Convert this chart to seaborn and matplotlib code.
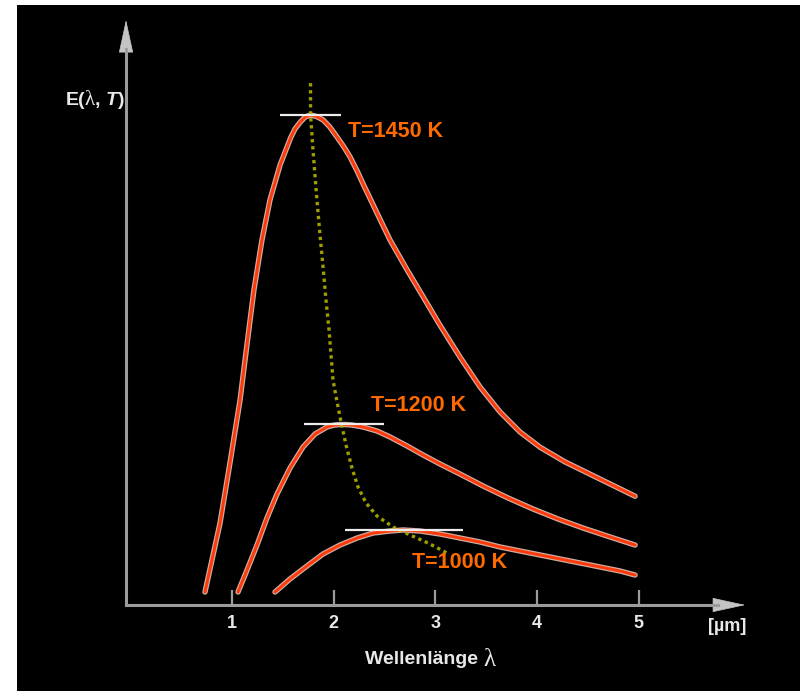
import numpy as np
import pandas as pd
import matplotlib
matplotlib.use('Agg')
import matplotlib.pyplot as plt
import matplotlib.patheffects as pe
import seaborn as sns

# wavelength [um] and E(lambda, T) readings (arbitrary units, peak of 1450 K = 100)
wl_1450 = [0.733, 0.802, 0.881, 0.979, 1.078, 1.146, 1.215, 1.294, 1.373, 1.472, 1.575, 1.62,
           1.673, 1.72, 1.772, 1.83, 1.895, 1.96, 2.033, 2.10, 2.162, 2.23, 2.290, 2.426,
           2.554, 2.722, 2.880, 3.046, 3.243, 3.440, 3.637, 3.834, 4.031, 4.277, 4.523,
           4.740, 4.966]
e_1450 = [2.65, 9.2, 16.7, 29.0, 41.8, 53.1, 64.3, 74.5, 82.7, 89.8, 95.3, 97.2,
          98.6, 99.6, 100, 99.7, 99.0, 97.6, 95.5, 93.5, 91.4, 88.6, 85.9, 80.0,
          74.5, 68.4, 62.9, 57.1, 50.6, 44.5, 39.4, 35.3, 32.2, 29.2, 26.7,
          24.5, 22.2]

wl_1200 = [1.058, 1.147, 1.245, 1.343, 1.442, 1.570, 1.698, 1.816, 1.934, 2.000, 2.062, 2.120,
           2.180, 2.289, 2.426, 2.554, 2.722, 2.880, 3.046, 3.243, 3.470, 3.716, 3.962, 4.208,
           4.454, 4.720, 4.966]
e_1200 = [2.65, 7.14, 12.24, 17.76, 22.65, 27.96, 32.24, 34.9, 36.33, 36.7, 36.84, 36.82,
          36.73, 36.33, 35.51, 34.29, 32.45, 30.61, 28.78, 26.73, 24.29, 21.84, 19.59, 17.55,
          15.71, 13.88, 12.24]

wl_1000 = [1.422, 1.570, 1.737, 1.895, 2.062, 2.230, 2.387, 2.554, 2.682, 2.850, 3.046, 3.243,
           3.440, 3.637, 3.883, 4.129, 4.375, 4.621, 4.818, 4.966]
e_1000 = [2.65, 5.31, 7.96, 10.41, 12.24, 13.67, 14.69, 15.10, 15.31, 15.10, 14.49, 13.67,
          12.86, 11.84, 10.82, 9.80, 8.78, 7.76, 6.94, 6.12]

# Wien displacement line (through the maxima)
wl_wien = [1.772, 1.772, 1.796, 1.835, 1.865, 1.895, 1.924, 1.954, 1.993, 2.033, 2.072, 2.121,
           2.180, 2.239, 2.318, 2.426, 2.584, 2.751, 2.928, 3.115]
e_wien = [106.5, 100, 92.86, 82.65, 75.5, 69.0, 62.24, 56.12, 45.92, 41.43, 37.35, 32.65,
          27.96, 24.08, 20.82, 18.16, 15.92, 14.29, 12.65, 10.61]

temps = ['T=1450 K', 'T=1200 K', 'T=1000 K']
peak_wl = [1.776, 2.10, 2.69]
peak_e = [100, 36.9, 15.4]
peak_halfwidth = [0.30, 0.39, 0.58]
label_pos = [(2.14, 96.7), (2.37, 40.8), (2.77, 8.6)]

xticks = [1, 2, 3, 4, 5]

df = pd.concat([
    pd.DataFrame({'wl': wl_1450, 'E': e_1450, 'T': temps[0]}),
    pd.DataFrame({'wl': wl_1200, 'E': e_1200, 'T': temps[1]}),
    pd.DataFrame({'wl': wl_1000, 'E': e_1000, 'T': temps[2]}),
])
wien = pd.DataFrame({'wl': wl_wien, 'E': e_wien})

sns.set_theme(style='white')
plt.rcParams['font.family'] = ['Liberation Sans', 'DejaVu Sans']

fig = plt.figure(figsize=(8, 6.91), dpi=100)
fig.patch.set_facecolor('white')
ax = fig.add_axes([17 / 800, 0, 783 / 800, 686 / 691])
ax.set_facecolor('black')

axis_grey = '#9c9c9c'
origin_x = -0.044

# curves with a pale outline
sns.lineplot(data=df, x='wl', y='E', hue='T', palette=['#ff3a0a'] * 3, sort=False,
             estimator=None, legend=False, lw=2.2, ax=ax, zorder=3,
             path_effects=[pe.Stroke(linewidth=3.9, foreground='#cdb0a8'), pe.Normal()])

# Wien line
sns.lineplot(data=wien, x='wl', y='E', sort=False, estimator=None, color='#b0b000',
             lw=2.4, linestyle=(0, (1, 1.1)), ax=ax, zorder=4, alpha=0.9)

# peak markers
ax.hlines(peak_e, np.array(peak_wl) - np.array(peak_halfwidth),
          np.array(peak_wl) + np.array(peak_halfwidth), color='#ececec', lw=1.6, zorder=5)

for name, (lx, ly) in zip(temps, label_pos):
    ax.text(lx, ly, name, color='#ff6a00', fontsize=15.5, fontweight='bold',
            ha='left', va='center', zorder=6)

ax.set_xlim(-1.117, 6.589)
ax.set_ylim(-17.55, 122.45)

# axes as arrows
for s in ['top', 'right']:
    ax.spines[s].set_visible(False)
ax.spines['bottom'].set_position(('data', 0))
ax.spines['left'].set_position(('data', origin_x))
ax.spines['bottom'].set_bounds(origin_x, 5.78)
ax.spines['left'].set_bounds(0, 113.5)
for s in ['bottom', 'left']:
    ax.spines[s].set_color(axis_grey)
    ax.spines[s].set_linewidth(2.2)

ax.set_xticks(xticks)
ax.set_xticklabels([str(t) for t in xticks])
ax.set_yticks([])
ax.tick_params(axis='x', direction='in', length=11, width=1.6, color=axis_grey,
               labelcolor='#e8e8e8', labelsize=13, pad=7, bottom=True)
for lab in ax.get_xticklabels():
    lab.set_fontweight('bold')
ax.set_xlabel('')
ax.set_ylabel('')

arrow = dict(arrowstyle='-|>,head_length=1.1,head_width=0.24', color='#c4c4c4',
             lw=0.5, shrinkA=0, shrinkB=0, mutation_scale=20)
ax.annotate('', xy=(6.05, 0), xytext=(5.7, 0), arrowprops=arrow, zorder=2)
ax.annotate('', xy=(origin_x, 119.4), xytext=(origin_x, 112), arrowprops=arrow, zorder=2)

ax.text(5.87, -4.3, '[µm]', color='#e8e8e8', fontsize=13, fontweight='bold',
        ha='center', va='center')

# x label: "Wellenlänge λ"
t1 = ax.text(2.31, -11.2, 'Wellenlänge ', color='#e8e8e8', fontsize=14,
             fontweight='bold', ha='left', va='center')
ax.annotate('λ', xy=(1, 0.5), xycoords=t1, color='#e8e8e8', fontsize=18,
            family='Liberation Serif', ha='left', va='center')

# y label: "E(λ, T)"
def chain(prev, s, **kw):
    return ax.annotate(s, xy=(1, 0.5), xycoords=prev, ha='left', va='center',
                       color='#e8e8e8', **kw)

e1 = ax.text(-0.64, 103, 'E(', color='#e8e8e8', fontsize=14, fontweight='bold',
             ha='left', va='center')
e2 = chain(e1, 'λ', fontsize=15, family='Liberation Serif')
e3 = chain(e2, ', ', fontsize=14, fontweight='bold')
e4 = chain(e3, 'T', fontsize=14, fontweight='bold', fontstyle='italic')
chain(e4, ')', fontsize=14, fontweight='bold')

fig.savefig('out.png', dpi=100, facecolor=fig.get_facecolor())
